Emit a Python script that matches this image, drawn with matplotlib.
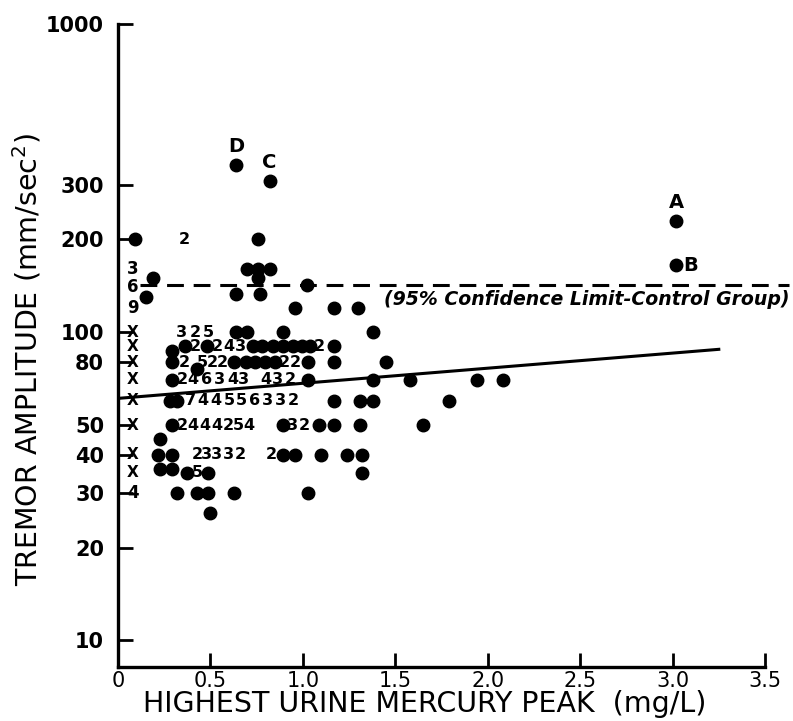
import matplotlib
matplotlib.use("Agg")
import matplotlib.pyplot as plt
from matplotlib.ticker import FixedLocator, FixedFormatter, NullLocator

# ---------------- data ----------------
# single filled circles: (mercury peak mg/L, tremor amplitude mm/sec^2)
dot_x = [0.09, 0.76,
         0.70, 0.76, 0.82,
         0.19, 0.76,
         1.02,
         0.15, 0.64, 0.77,
         0.96, 1.17, 1.30,
         0.64, 0.70, 0.89, 1.38,
         0.29, 0.36, 0.48, 0.73, 0.78, 0.84, 0.89, 0.946, 0.995, 1.04, 1.17,
         0.29, 0.63, 0.69, 0.74, 0.795, 0.85, 1.03, 1.17, 1.45,
         0.43,
         0.29, 1.03, 1.38, 1.58, 1.94, 2.08,
         0.28, 0.32, 1.17, 1.31, 1.38, 1.79,
         0.29, 0.89, 1.09, 1.17, 1.31, 1.65,
         0.227, 0.216, 0.29, 0.227, 0.29,
         0.89, 0.957, 1.10, 1.24, 1.32,
         0.373, 0.486, 1.32,
         0.32, 0.43, 0.486, 0.63, 1.03,
         0.50]
dot_y = [200, 200,
         160, 160, 160,
         150, 150,
         142,
         130, 133, 133,
         120, 120, 120,
         100, 100, 100, 100,
         87, 90, 90, 90, 90, 90, 90, 90, 90, 90, 90,
         80, 80, 80, 80, 80, 80, 80, 80, 80,
         76,
         70, 70, 70, 70, 70, 70,
         60, 60, 60, 60, 60, 60,
         50, 50, 50, 50, 50, 50,
         45, 40, 40, 36, 36,
         40, 40, 40, 40, 40,
         35, 35, 35,
         30, 30, 30, 30, 30,
         26]

# numbers giving how many subjects share a point
count_x = [0.36,
           0.345, 0.42, 0.49,
           0.42, 0.535, 0.60, 0.66, 1.09,
           0.357, 0.455, 0.51, 0.565, 0.90, 0.957,
           0.346, 0.405, 0.48, 0.55, 0.62, 0.676, 0.80, 0.865, 0.93,
           0.39, 0.46, 0.53, 0.60, 0.67, 0.74, 0.81, 0.88, 0.95,
           0.346, 0.405, 0.47, 0.535, 0.595, 0.65, 0.71, 0.946, 1.01,
           0.427, 0.48, 0.535, 0.595, 0.66, 0.83,
           0.43]
count_y = [200,
           100, 100, 100,
           90, 90, 90, 90, 90,
           80, 80, 80, 80, 80, 80,
           70, 70, 70, 70, 70, 70, 70, 70, 70,
           60, 60, 60, 60, 60, 60, 60, 60, 60,
           50, 50, 50, 50, 50, 50, 50, 50, 50,
           40, 40, 40, 40, 40, 40,
           35]
count_text = ["2",
              "3", "2", "5",
              "2", "2", "4", "3", "2",
              "2", "5", "2", "2", "2", "2",
              "2", "4", "6", "3", "4", "3", "4", "3", "2",
              "7", "4", "4", "5", "5", "6", "3", "3", "2",
              "2", "4", "4", "4", "2", "5", "4", "3", "2",
              "2", "3", "3", "3", "2", "2",
              "5"]

# column of unexposed subjects near x = 0
ctrl_x = 0.08
ctrl_y = [160, 140, 120, 100, 90, 80, 70, 60, 50, 40, 35, 30]
ctrl_text = ["3", "6", "9", "X", "X", "X", "X", "X", "X", "X", "X", "4"]

# labelled cases
case_text = ["A", "B", "C", "D"]
case_x = [3.02, 3.02, 0.82, 0.64]
case_y = [230, 165, 310, 350]

# 95% confidence limit of control group and regression line
control_limit = 142
reg_x = [0.0, 3.25]
reg_y = [61, 88]

xticks = [0, 0.5, 1.0, 1.5, 2.0, 2.5, 3.0, 3.5]
xtick_labels = ["0", "0.5", "1.0", "1.5", "2.0", "2.5", "3.0", "3.5"]
yticks = [10, 20, 30, 40, 50, 80, 100, 200, 300, 1000]
ytick_labels = ["10", "20", "30", "40", "50", "80", "100", "200", "300", "1000"]

# ---------------- figure ----------------
plt.rcParams["font.family"] = ["DejaVu Sans"]
W, H = 793, 721
fig = plt.figure(figsize=(W / 100, H / 100), dpi=100)
ax = fig.add_axes([118 / W, (H - 667) / H, (765 - 118) / W, (667 - 24) / H])

ax.set_yscale("log")
ax.set_xlim(0, 3.5)
ax.set_ylim(8.2, 1000)

ax.plot(dot_x, dot_y, "o", color="black", ms=9, linestyle="none", zorder=3)

for x, y, t in zip(count_x, count_y, count_text):
    ax.text(x, y, t, ha="center", va="center", fontsize=11.5, fontweight="bold", zorder=4)

for y, t in zip(ctrl_y, ctrl_text):
    ax.text(ctrl_x, y, t, ha="center", va="center", fontsize=11 if t == "X" else 12,
            fontweight="bold", zorder=4)

for x, y, t in zip(case_x, case_y, case_text):
    if t == "B":
        ax.annotate(t, (x, y), xytext=(10, 0), textcoords="offset points",
                    ha="center", va="center", fontsize=14, fontweight="bold")
    else:
        ax.annotate(t, (x, y), xytext=(0, 13), textcoords="offset points",
                    ha="center", va="center", fontsize=14, fontweight="bold")
    ax.plot([x], [y], "o", color="black", ms=9, zorder=3)

ax.plot([0.12, 3.63], [control_limit, control_limit], color="black", lw=2.2,
        dashes=(5.5, 3.2), clip_on=False, zorder=2)
ax.text(1.44, 128, "(95% Confidence Limit-Control Group)", ha="left", va="center",
        fontsize=13.6, fontstyle="italic", fontweight="bold")

ax.plot(reg_x, reg_y, color="black", lw=2.2, zorder=2)

for s in ["top", "right"]:
    ax.spines[s].set_visible(False)
for s in ["left", "bottom"]:
    ax.spines[s].set_linewidth(2.4)

ax.xaxis.set_major_locator(FixedLocator(xticks))
ax.xaxis.set_major_formatter(FixedFormatter(xtick_labels))
ax.yaxis.set_major_locator(FixedLocator(yticks))
ax.yaxis.set_major_formatter(FixedFormatter(ytick_labels))
ax.yaxis.set_minor_locator(NullLocator())
ax.xaxis.set_minor_locator(NullLocator())

ax.tick_params(axis="x", direction="in", length=10, width=2, pad=3, labelsize=15)
ax.tick_params(axis="y", direction="in", length=11, width=2, pad=10, labelsize=15)
for lab in ax.get_yticklabels():
    lab.set_fontweight("bold")

fig.text(425 / W, 1 - 704 / H, "HIGHEST URINE MERCURY PEAK  (mg/L)", ha="center",
         va="center", fontsize=20.5)
fig.text(27 / W, 1 - 360 / H, r"TREMOR AMPLITUDE (mm/sec$^{2}$)", ha="center",
         va="center", rotation=90, fontsize=20.5)

fig.savefig("out.png", dpi=100, facecolor="white")
